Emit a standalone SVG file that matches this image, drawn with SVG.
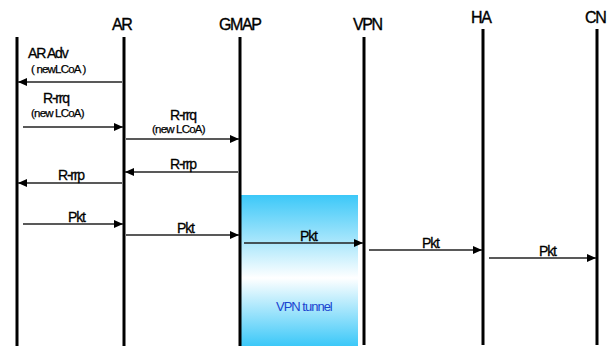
<svg xmlns="http://www.w3.org/2000/svg" width="613" height="347" viewBox="0 0 613 347">
<style>
.life{stroke:#000;stroke-width:3;fill:none}
.msg{stroke:#222;stroke-width:1.5;fill:none;marker-end:url(#ah)}
.hd{font-family:"Liberation Sans",Arial,sans-serif;font-size:16px;letter-spacing:-1.4px;fill:#000;stroke:#000;stroke-width:0.35}
.lb{font-family:"Liberation Sans",Arial,sans-serif;font-size:14px;letter-spacing:-1.2px;fill:#000;stroke:#000;stroke-width:0.3}
.sm{font-family:"Liberation Sans",Arial,sans-serif;font-size:11.5px;letter-spacing:-0.8px;fill:#000;stroke:#000;stroke-width:0.25}
.tun{font-family:"Liberation Sans",Arial,sans-serif;font-size:13px;letter-spacing:-1px;fill:#1a44d0}
</style>
<defs>
<marker id="ah" markerUnits="userSpaceOnUse" markerWidth="10" markerHeight="10" viewBox="0 0 10 10" refX="9" refY="5" orient="auto">
<path d="M0,1 L9,5 L0,9 Z" fill="#000"/>
</marker>
<linearGradient id="tg" x1="0" y1="0" x2="0" y2="1">
<stop offset="0" stop-color="#3cc8f8"/>
<stop offset="0.55" stop-color="#ffffff"/>
<stop offset="1" stop-color="#3cc8f8"/>
</linearGradient>
</defs>
<rect width="613" height="347" fill="#fff"/>
<g id="tunnel">
<rect x="240" y="195" width="118" height="151" fill="url(#tg)"/>
<text class="tun" x="276" y="311">VPN tunnel</text>
</g>
<g id="node-MN"><line class="life" x1="17" y1="37" x2="17" y2="346"/></g>
<g id="node-AR"><line class="life" x1="124" y1="37" x2="124" y2="346"/><text class="hd" x="112" y="30">AR</text></g>
<g id="node-GMAP"><line class="life" x1="240" y1="37" x2="240" y2="346" stroke-width="2.2"/><text class="hd" x="219" y="30">GMAP</text></g>
<g id="node-VPN"><line class="life" x1="364" y1="37" x2="364" y2="345"/><text class="hd" x="353" y="30">VPN</text></g>
<g id="node-HA"><line class="life" x1="483" y1="29" x2="483" y2="345"/><text class="hd" x="471" y="23">HA</text></g>
<g id="node-CN"><line class="life" x1="597" y1="29" x2="597" y2="345"/><text class="hd" x="585" y="23">CN</text></g>
<g id="connectors">
<line class="msg" x1="122" y1="82" x2="18" y2="82"/>
<line class="msg" x1="23" y1="127" x2="123" y2="127"/>
<line class="msg" x1="126" y1="139" x2="239" y2="139"/>
<line class="msg" x1="238" y1="172" x2="125" y2="172"/>
<line class="msg" x1="122" y1="183" x2="18" y2="183"/>
<line class="msg" x1="23" y1="224" x2="123" y2="224"/>
<line class="msg" x1="126" y1="235" x2="239" y2="235"/>
<line class="msg" x1="244" y1="243" x2="363" y2="243"/>
<line class="msg" x1="369" y1="250" x2="482" y2="250"/>
<line class="msg" x1="489" y1="258" x2="596" y2="258"/>
</g>
<g id="labels">
<text class="lb" x="28" y="58">AR Adv</text>
<text class="sm" x="31" y="73">( newLCoA )</text>
<text class="lb" x="43" y="103">R-rrq</text>
<text class="sm" x="31" y="117">(new LCoA)</text>
<text class="lb" x="170" y="120">R-rrq</text>
<text class="sm" x="152" y="133">(new LCoA)</text>
<text class="lb" x="170" y="169">R-rrp</text>
<text class="lb" x="58" y="180">R-rrp</text>
<text class="lb" x="68" y="222">Pkt</text>
<text class="lb" x="177" y="233">Pkt</text>
<text class="lb" x="300" y="241">Pkt</text>
<text class="lb" x="422" y="248">Pkt</text>
<text class="lb" x="539" y="256">Pkt</text>
</g>
</svg>
